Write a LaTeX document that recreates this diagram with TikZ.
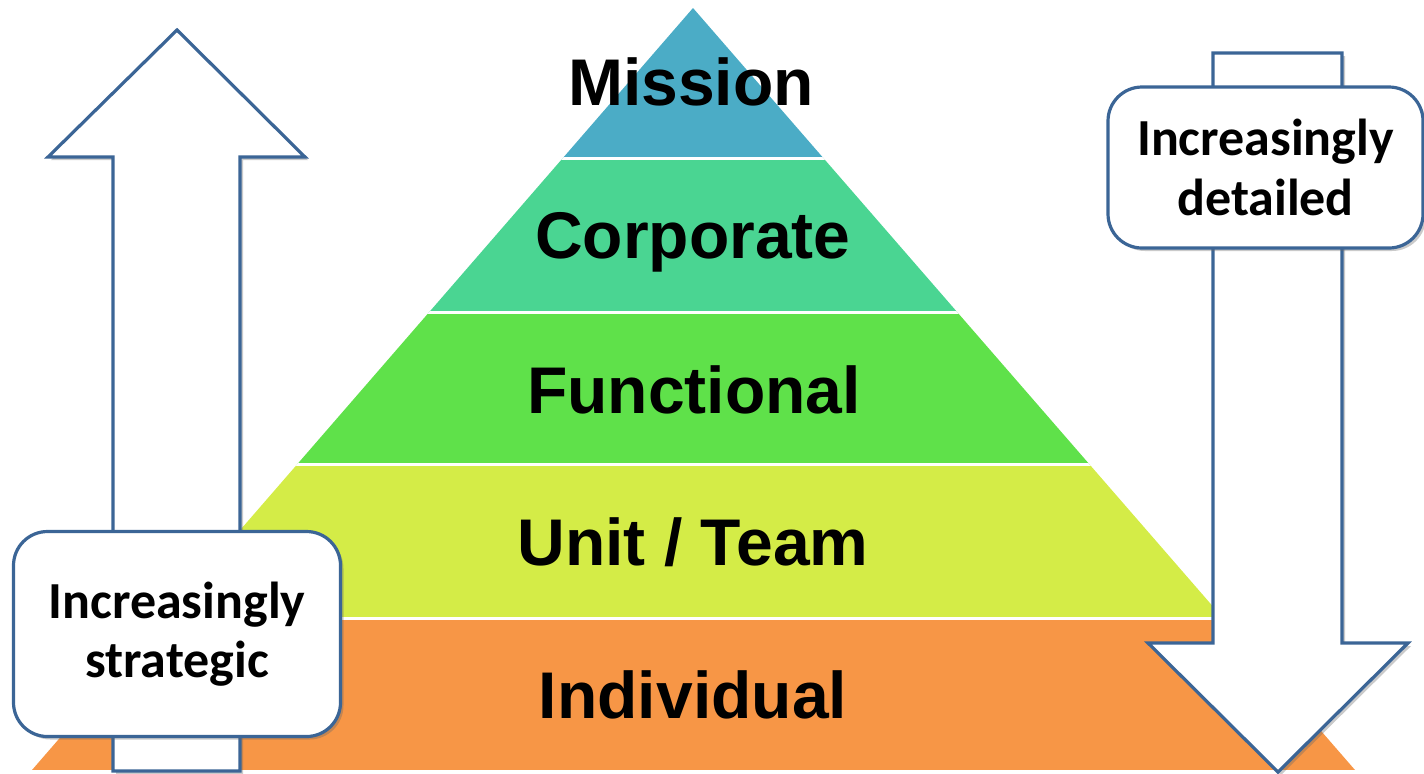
\documentclass[tikz,border=0pt]{standalone}
\usepackage{fontspec}
\setmainfont{Liberation Sans}
\newfontfamily\boxfont{Carlito}
\usetikzlibrary{shadows}
\definecolor{cMission}{HTML}{4BACC6}
\definecolor{cCorp}{HTML}{4AD592}
\definecolor{cFunc}{HTML}{5FE14A}
\definecolor{cUnit}{HTML}{D4EC47}
\definecolor{cIndiv}{HTML}{F79646}
\definecolor{cEdge}{HTML}{3B6596}
\tikzset{
  layertext/.style={anchor=base, font=\fontsize{33}{38}\selectfont\bfseries, text=black, inner sep=0pt},
  bigarrow/.style={draw=cEdge, line width=1.6pt, fill=white, line join=miter,
    drop shadow={shadow xshift=1.5pt, shadow yshift=-1.5pt, opacity=0.35, fill=black!60}},
  infobox/.style={draw=cEdge, line width=1.6pt, fill=white, rounded corners=17pt,
    align=center, inner sep=0pt,
    font=\boxfont\bfseries\fontsize{26}{29.8}\selectfont,
    drop shadow={shadow xshift=1.5pt, shadow yshift=-1.5pt, opacity=0.35, fill=black!60}},
  gapline/.style={draw=white, line width=1.5pt}
}
\begin{document}
\begin{tikzpicture}[x=0.5pt, y=-0.5pt]
\useasboundingbox (0,0) rectangle (1424,773);
% pyramid
\begin{scope}
  \clip (693,8) -- (1355,770) -- (32,770) -- cycle;
  \fill[cMission] (0,0) rectangle (1424,158);
  \fill[cCorp]    (0,158) rectangle (1424,312.5);
  \fill[cFunc]    (0,312.5) rectangle (1424,464.5);
  \fill[cUnit]    (0,464.5) rectangle (1424,618.5);
  \fill[cIndiv]   (0,618.5) rectangle (1424,770);
  \draw[gapline] (0,158) -- (1424,158);
  \draw[gapline] (0,312.5) -- (1424,312.5);
  \draw[gapline] (0,464.5) -- (1424,464.5);
  \draw[gapline] (0,618.5) -- (1424,618.5);
\end{scope}
\node[layertext] (mission) at (691,105) {Mission};
\node[layertext] (corporate) at (693,258) {Corporate};
\node[layertext] (functional) at (694,413) {Functional};
\node[layertext] (unit) at (693,565) {Unit / Team};
\node[layertext] (individual) at (693,718) {Individual};
% up arrow
\draw[bigarrow] (177,30) -- (305,157) -- (240,157) -- (240,771) -- (113,771) -- (113,157) -- (48,157) -- cycle;
% down arrow
\draw[bigarrow] (1213,53) -- (1342,53) -- (1342,643) -- (1408,643) -- (1278,772) -- (1148,643) -- (1213,643) -- cycle;
% boxes
\node[infobox, minimum width=163.5pt, minimum height=102.5pt] (strategic) at (177,634) {Increasingly\\strategic};
\node[infobox, minimum width=157.5pt, minimum height=80.5pt] (detailed) at (1265.5,167.5) {Increasingly\\detailed};
\end{tikzpicture}
\end{document}
